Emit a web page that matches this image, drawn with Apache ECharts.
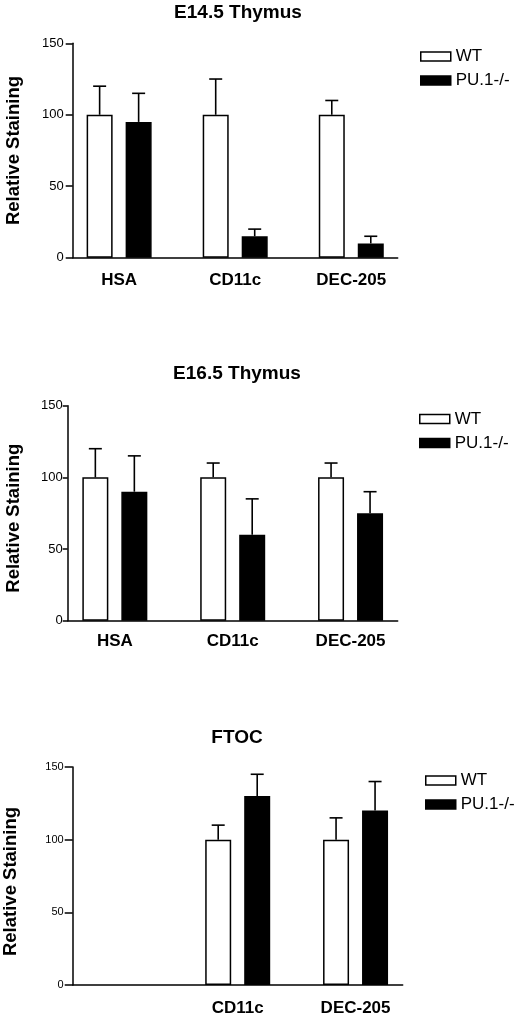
<!DOCTYPE html>
<html>
<head>
<meta charset="utf-8">
<script src="https://cdn.jsdelivr.net/npm/echarts@6/dist/echarts.min.js"></script>
<style>
html,body{margin:0;padding:0;background:#fff;}
#chart{width:520px;height:1016px;}
</style>
</head>
<body>
<div id="chart"></div>
<script>
// ---- data ----
const categories = ['HSA', 'CD11c', 'DEC-205'];
const ftocCategories = ['', 'CD11c', 'DEC-205'];
const panelTitles = ['E14.5 Thymus', 'E16.5 Thymus', 'FTOC'];
const seriesNames = ['WT', 'PU.1-/-'];
const yTicks = [0, 50, 100, 150];

const e14WT = [100, 100, 100];
const e14WTErr = [20, 25, 10];
const e14PU = [95, 15, 10];
const e14PUErr = [20, 5, 5];

const e16WT = [100, 100, 100];
const e16WTErr = [20, 10, 10];
const e16PU = [90, 60, 75];
const e16PUErr = [25, 25, 15];

const ftocWT = [null, 100, 100];
const ftocWTErr = [null, 10, 15];
const ftocPU = [null, 130, 120];
const ftocPUErr = [null, 15, 20];

// ---- layout / style ----
const FONT = '"Liberation Sans", Arial, Helvetica, sans-serif';
const panels = [
  {cats: categories, wt: e14WT, wtErr: e14WTErr, pu: e14PU, puErr: e14PUErr,
   left: 72.7, right: 122.3, top: 43.3, height: 214.4, tickLen: 7, labMargin: 9, tickFont: 13,
   xMargin: 14, nameGap: 49, namePad: [0, 0, 0, 0], titleX: 238, titleY: 13, legLeft: 420, legTop: 48},
  {cats: categories, wt: e16WT, wtErr: e16WTErr, pu: e16PU, puErr: e16PUErr,
   left: 67.7, right: 122.3, top: 405.7, height: 215, tickLen: 5, labMargin: 5, tickFont: 13,
   xMargin: 12, nameGap: 44.5, namePad: [0, 10, 0, 0], titleX: 237, titleY: 374, legLeft: 419, legTop: 410.5},
  {cats: ftocCategories, wt: ftocWT, wtErr: ftocWTErr, pu: ftocPU, puErr: ftocPUErr,
   left: 72.7, right: 117.3, top: 767, height: 218, tickLen: 8, labMargin: 9, tickFont: 11,
   xMargin: 15, nameGap: 52, namePad: [0, 11, 0, 0], titleX: 237, titleY: 738, legLeft: 425, legTop: 772}
];
const BAR_W = 26;
const HALF_STEP = 19.5;
const CAP = 6.5;

function errRender(offset) {
  return function (params, api) {
    const x = api.value(0), v = api.value(1), e = api.value(2);
    if (v == null || isNaN(v)) return;
    const p0 = api.coord([x, v]);
    const p1 = api.coord([x, v + e]);
    const cx = p0[0] + offset;
    return {
      type: 'group',
      children: [
        {type: 'line', shape: {x1: cx, y1: p0[1], x2: cx, y2: p1[1]}, style: {stroke: '#000', lineWidth: 1.6}},
        {type: 'line', shape: {x1: cx - CAP, y1: p1[1], x2: cx + CAP, y2: p1[1]}, style: {stroke: '#000', lineWidth: 1.6}}
      ]
    };
  };
}

const option = {
  backgroundColor: '#fff',
  animation: false,
  title: [], legend: [], grid: [], xAxis: [], yAxis: [], series: []
};

panels.forEach((p, k) => {
  option.title.push({
    text: panelTitles[k], left: p.titleX, top: p.titleY, textAlign: 'center', textVerticalAlign: 'middle', padding: 0,
    textStyle: {fontFamily: FONT, fontSize: 19, fontWeight: 'bold', color: '#000'}
  });
  option.legend.push({
    data: seriesNames, orient: 'vertical', left: p.legLeft, top: p.legTop, padding: 0,
    itemWidth: 30, itemHeight: 9, itemGap: 7, icon: 'rect', selectedMode: false,
    itemStyle: {borderColor: '#000', borderWidth: 1.5},
    textStyle: {fontFamily: FONT, fontSize: 17, color: '#000', lineHeight: 17}
  });
  option.grid.push({left: p.left, right: p.right, top: p.top, height: p.height,
    containLabel: false, outerBoundsMode: 'none'});
  const cats = p.cats;
  option.xAxis.push({
    type: 'value', gridIndex: k, min: 0.6, max: 3.4,
    axisLine: {show: true, lineStyle: {color: '#000', width: 1.5}},
    axisTick: {show: false},
    splitLine: {show: false},
    axisLabel: {
      customValues: cats.map((c, i) => i + 1),
      formatter: v => cats[Math.round(v) - 1] || '',
      fontFamily: FONT, fontSize: 17, fontWeight: 'bold', color: '#000', margin: p.xMargin
    }
  });
  option.yAxis.push({
    type: 'value', gridIndex: k, min: yTicks[0], max: yTicks[yTicks.length - 1], interval: 50,
    name: 'Relative Staining', nameLocation: 'middle', nameRotate: 90, nameGap: p.nameGap,
    nameTextStyle: {fontFamily: FONT, fontSize: 18.5, fontWeight: 'bold', color: '#000', padding: p.namePad},
    axisLine: {show: true, lineStyle: {color: '#000', width: 1.5}},
    axisTick: {show: true, length: p.tickLen, lineStyle: {color: '#000', width: 1.5}},
    splitLine: {show: false},
    axisLabel: {fontFamily: FONT, fontSize: p.tickFont, color: '#000', margin: p.labMargin}
  });
  const wtData = cats.map((c, i) => [i + 1, p.wt[i]]);
  const puData = cats.map((c, i) => [i + 1, p.pu[i]]);
  option.series.push({
    name: seriesNames[0], type: 'bar', xAxisIndex: k, yAxisIndex: k, data: wtData,
    barWidth: BAR_W, barGap: '50%',
    itemStyle: {color: '#fff', borderColor: '#000', borderWidth: 1.5}
  });
  option.series.push({
    name: seriesNames[1], type: 'bar', xAxisIndex: k, yAxisIndex: k, data: puData,
    barWidth: BAR_W, barGap: '50%',
    itemStyle: {color: '#000', borderColor: '#000', borderWidth: 1.5}
  });
  const wtErrData = [], puErrData = [];
  cats.forEach((c, i) => {
    if (p.wt[i] != null) wtErrData.push([i + 1, p.wt[i], p.wtErr[i]]);
    if (p.pu[i] != null) puErrData.push([i + 1, p.pu[i], p.puErr[i]]);
  });
  option.series.push({
    name: 'WT error', type: 'custom', xAxisIndex: k, yAxisIndex: k, z: 5,
    renderItem: errRender(-HALF_STEP), data: wtErrData, encode: {x: 0, y: 1}
  });
  option.series.push({
    name: 'PU error', type: 'custom', xAxisIndex: k, yAxisIndex: k, z: 5,
    renderItem: errRender(HALF_STEP), data: puErrData, encode: {x: 0, y: 1}
  });
});

const chart = echarts.init(document.getElementById('chart'), null, {renderer: 'canvas'});
chart.setOption(option);
</script>
</body>
</html>
